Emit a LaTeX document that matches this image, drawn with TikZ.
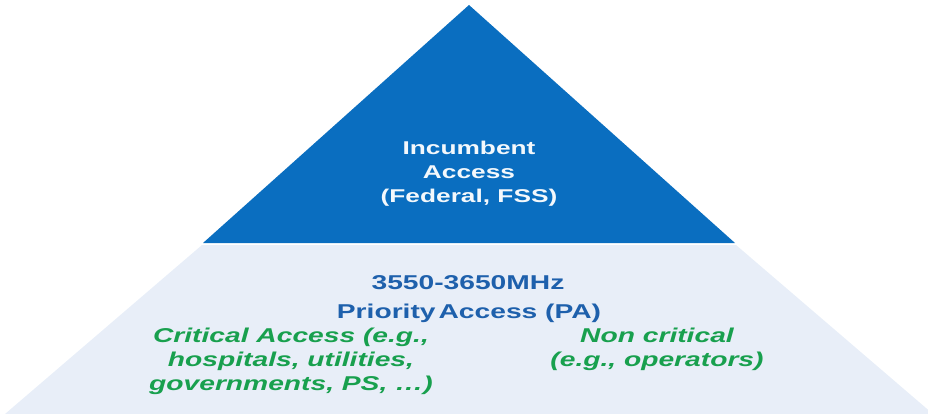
\documentclass[tikz,border=0pt]{standalone}
\usepackage{fontspec}
\usepackage{tikz}
\newfontfamily\topfont{Liberation Sans}[FakeStretch=1.42]
\newfontfamily\lowfont{Liberation Sans}[FakeStretch=1.41]
\definecolor{incblue}{RGB}{10,110,192}
\definecolor{palafill}{RGB}{232,238,248}
\definecolor{patext}{RGB}{30,96,172}
\definecolor{gaagreen}{RGB}{24,160,78}

\begin{document}
\begin{tikzpicture}[x=1pt, y=-1pt]
	\useasboundingbox (0,0) rectangle (928,414);
	\coordinate (apex) at (469,5);
	\coordinate (il) at (203,243);
	\coordinate (ir) at (735,243);
	\coordinate (pl) at (202,245);
	\coordinate (pr) at (736,245);
	\coordinate (bl) at (5,414);
	\coordinate (br) at (933,414);
	\fill[palafill] (pl) -- (pr) -- (br) -- (bl) -- cycle;
	\fill[incblue] (apex) -- (ir) -- (il) -- cycle;
		\node (inc) at (469,174) [align=center, text=white!95!incblue, font={\topfont\bfseries\fontsize{18.5}{24}\selectfont}] {Incumbent\\Access\\(Federal, FSS)};
		\node (band) at (468,289) [anchor=base, text=patext, font={\lowfont\bfseries\fontsize{20}{24}\selectfont}] {3550-3650MHz};
		\node (pa) at (469,318) [anchor=base, text=patext, font={\lowfont\bfseries\fontsize{20}{24}\selectfont}] {Priority\hspace{0.15em}Access (PA)};
			\node (crit) at (291,361) [align=center, text=gaagreen, font={\lowfont\bfseries\itshape\fontsize{20}{24}\selectfont}] {Critical Access (e.g.,\\hospitals, utilities,\\governments, PS, \dots)};
			\node (noncrit) at (657,349) [align=center, text=gaagreen, font={\lowfont\bfseries\itshape\fontsize{20}{24}\selectfont}] {Non critical\\(e.g., operators)};
\end{tikzpicture}
\end{document}
